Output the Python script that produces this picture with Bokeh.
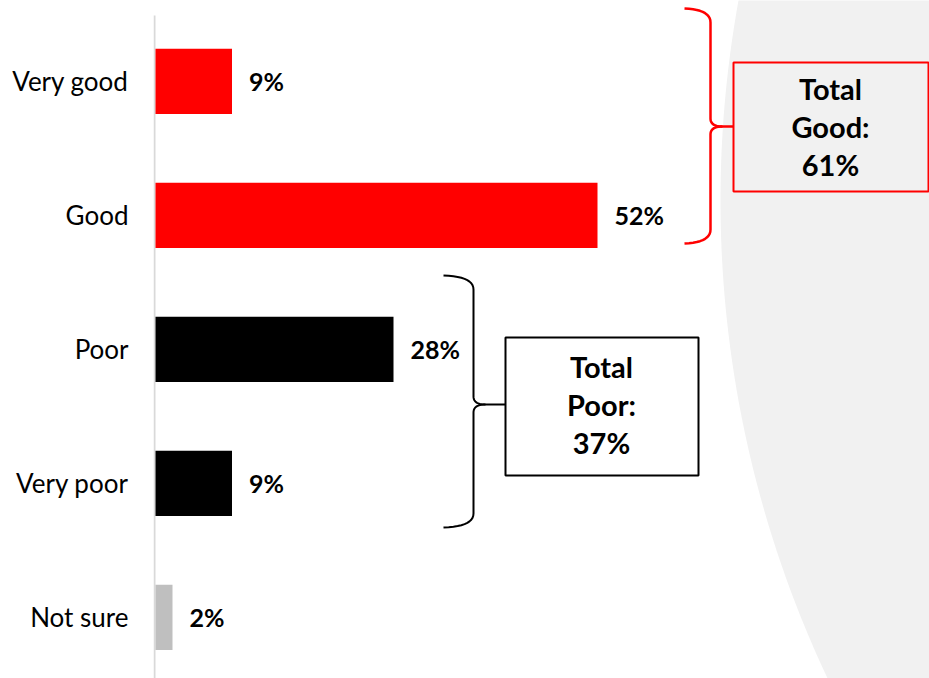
import numpy as np
from bokeh.plotting import figure
from bokeh.models import Range1d, FixedTicker
from bokeh.embed import file_html
from bokeh.resources import INLINE
from bokeh.core.properties import value

# ---- data ----
categories = ["Very good", "Good", "Poor", "Very poor", "Not sure"]
percent = [9, 52, 28, 9, 2]
bar_colors = ["#ff0000", "#ff0000", "#000000", "#000000", "#bfbfbf"]
pct_labels = ["9%", "52%", "28%", "9%", "2%"]
group_texts = ["Total\nGood:\n61%", "Total\nPoor:\n37%"]
group_colors = ["#ff0000", "#000000"]

# ---- layout constants (pixels) ----
W, H = 929, 678
LEFT = 153          # frame left edge
ZERO = 155          # pixel x of value 0 (bar start)
XS = 8.5            # px per percent
YS = 134.0          # px per category step
TOP_CENTER = 80.8   # pixel y of first category centre

x_start = -(ZERO - LEFT) / XS
x_end = (W - ZERO) / XS
n = len(categories)
y_top = (n - 1) + TOP_CENTER / YS
y_bot = y_top - H / YS
ypos = [n - 1 - i for i in range(n)]

def dx(px):
    return (np.asarray(px, dtype=float) - ZERO) / XS

def dy(py):
    return y_top - np.asarray(py, dtype=float) / YS

p = figure(width=W, height=H, output_backend="svg", toolbar_location=None,
           x_range=Range1d(x_start, x_end), y_range=Range1d(y_bot, y_top),
           min_border_left=LEFT, min_border_right=0, min_border_top=0,
           min_border_bottom=0, background_fill_color="white",
           border_fill_color="white", outline_line_color=None)

# background decorative shape (large circle on the right)
R = 1120.0
cx, cy = 720.0 + R, 200.0
t = np.linspace(np.pi / 2, 3 * np.pi / 2, 400)
arc_x = cx + R * np.cos(t)
arc_y = cy - R * np.sin(t)
mask = (arc_y > -20) & (arc_y < H + 20)
bx = list(arc_x[mask]) + [W + 50, W + 50]
by = list(arc_y[mask]) + [arc_y[mask][-1], arc_y[mask][0]]
p.patch(dx(bx), dy(by), fill_color="#f1f1f1", line_color=None, level="underlay")

# axis line
p.segment(x0=[dx(154)], y0=[dy(15)], x1=[dx(154)], y1=[y_bot], line_color="#d9d9d9", line_width=2)

# bars
BAR_H = 65.3 / YS
p.hbar(y=ypos, right=percent, left=0, height=BAR_H, fill_color=bar_colors, line_color=None)

# value labels
p.text(x=percent, y=ypos, text=pct_labels, x_offset=17, text_align="left",
       text_baseline="middle", text_font=value("Lato"), text_font_style="bold",
       text_font_size="25px", text_color="#000000")

# braces
def brace(x, top, bot, mid, tip, hook):
    def quad(p0, c, p1, m=12):
        s = np.linspace(0, 1, m)
        xs = (1 - s) ** 2 * p0[0] + 2 * (1 - s) * s * c[0] + s ** 2 * p1[0]
        ys = (1 - s) ** 2 * p0[1] + 2 * (1 - s) * s * c[1] + s ** 2 * p1[1]
        return list(xs), list(ys)
    X, Y = [], []
    for seg in [quad((x - hook, top), (x, top + 1), (x, top + 14)),
                ([x, x], [top + 14, mid - 8]),
                quad((x, mid - 8), (x, mid), (x + 12, mid)),
                ([x + 12, tip], [mid, mid])]:
        X += list(seg[0]); Y += list(seg[1])
    X2, Y2 = [], []
    for seg in [quad((x + 12, mid), (x, mid), (x, mid + 8)),
                ([x, x], [mid + 8, bot - 14]),
                quad((x, bot - 14), (x, bot - 1), (x - hook, bot))]:
        X2 += list(seg[0]); Y2 += list(seg[1])
    return [list(dx(X)), list(dx(X2))], [list(dy(Y)), list(dy(Y2))]

braces = [dict(x=710, top=8, bot=243, mid=126, tip=733, hook=26, lw=2.5),
          dict(x=473, top=275, bot=527, mid=404, tip=505, hook=30, lw=2)]
boxes = [dict(l=733, r=928, t=62, b=191, cx=830, cy=126),
         dict(l=505, r=698, t=337, b=475, cx=601, cy=404)]

for i, (br, bx_) in enumerate(zip(braces, boxes)):
    xs, ys = brace(br["x"], br["top"], br["bot"], br["mid"], br["tip"], br["hook"])
    p.multi_line(xs, ys, line_color=group_colors[i], line_width=br["lw"])
    p.quad(left=[dx(bx_["l"])], right=[dx(bx_["r"])], top=[dy(bx_["t"])],
           bottom=[dy(bx_["b"])], fill_color=None, line_color=group_colors[i],
           line_width=2)
    p.text(x=[dx(bx_["cx"])], y=[dy(bx_["cy"])], text=[group_texts[i]],
           text_align="center", text_baseline="middle", text_font=value("Lato"),
           text_font_style="bold", text_font_size="29px", text_color="#000000",
           text_line_height=1.08)

# axes
p.xaxis.visible = False
p.yaxis.ticker = FixedTicker(ticks=ypos)
p.yaxis.major_label_overrides = {y: c for y, c in zip(ypos, categories)}
p.yaxis.axis_line_color = None
p.yaxis.major_tick_line_color = None
p.yaxis.minor_tick_line_color = None
p.yaxis.major_tick_out = 0
p.yaxis.major_tick_in = 0
p.yaxis.major_label_standoff = 25
p.yaxis.major_label_text_font = "Lato"
p.yaxis.major_label_text_font_size = "26px"
p.yaxis.major_label_text_color = "#000000"
p.xgrid.visible = False
p.ygrid.visible = False

html = file_html(p, INLINE)
html = html.replace("<head>", "<head><style>html,body{margin:0;padding:0;overflow:hidden;}</style>", 1)
open("out.html", "w").write(html)
